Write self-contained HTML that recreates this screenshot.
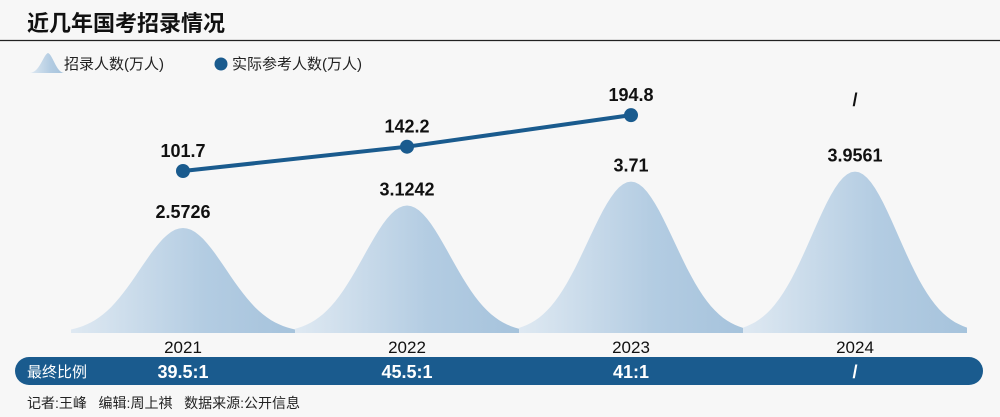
<!DOCTYPE html>
<html><head><meta charset="utf-8"><style>
body{margin:0;background:#f7f7f7;}
svg{display:block;font-family:"Liberation Sans","Noto Sans CJK SC",sans-serif;}
</style></head><body>
<svg width="1000" height="417" viewBox="0 0 1000 417">
<defs>
<linearGradient id="bell" x1="0" x2="1" y1="0" y2="0">
<stop offset="0" stop-color="#dfe9f2"/><stop offset="0.6" stop-color="#b3cce2"/><stop offset="1" stop-color="#a6c3dc"/>
</linearGradient>
</defs>
<rect width="1000" height="417" fill="#f7f7f7"/>
<text x="27" y="31" font-size="22" font-weight="bold" fill="#111">近几年国考招录情况</text>
<line x1="0" y1="40.5" x2="1000" y2="40.5" stroke="#222" stroke-width="1.2"/>
<g>
<path d="M30,73 C40,72 43,55 48,53 C53,55 56,72 64,73 Z" fill="url(#bell)"/>
<text x="64" y="69" font-size="15" fill="#222">招录人数(万人)</text>
<circle cx="221" cy="64" r="6.5" fill="#1a5b8e"/>
<text x="232" y="69" font-size="15" fill="#222">实际参考人数(万人)</text>
</g>
<g id="bells"></g>
<g id="line"></g>
<rect x="15" y="357" width="968" height="28" rx="14" fill="#1a5b8e"/>
<text x="27" y="377" font-size="15" fill="#fff">最终比例</text>
<g id="ratios"></g>
<text x="27" y="408" font-size="14" fill="#222">记者:王峰&#160;&#160;&#160;编辑:周上祺&#160;&#160;&#160;数据来源:公开信息</text>
</svg>
<script>
const years=['2021','2022','2023','2024'];
const recruits=[2.5726,3.1242,3.71,3.9561];
const recruitLabels=['2.5726','3.1242','3.71','3.9561'];
const applicants=[101.7,142.2,194.8,null];
const applicantLabels=['101.7','142.2','194.8','/'];
const ratios=['39.5:1','45.5:1','41:1','/'];
const NS='http://www.w3.org/2000/svg';
const xPos=i=>183+i*224;
const base=333;
const yBell=v=>base-v*40.8;
const yLine=v=>171-(v-101.7)*0.6;
function mk(tag,attrs,parent){const e=document.createElementNS(NS,tag);for(const k in attrs)e.setAttribute(k,attrs[k]);parent.appendChild(e);return e;}
const gb=document.getElementById('bells'),gl=document.getElementById('line'),gr=document.getElementById('ratios');
years.forEach((y,i)=>{
  const cx=xPos(i),h=base-yBell(recruits[i]),sig=43;
  let d='M'+(cx-112)+','+base;
  for(let dx=-112;dx<=112;dx+=4){d+=' L'+(cx+dx)+','+(base-h*Math.exp(-dx*dx/(2*sig*sig))).toFixed(1);}
  d+=' L'+(cx+112)+','+base+' Z';
  const p=mk('path',{d:d,fill:'url(#bell)'},gb);
  
  
  const t=mk('text',{x:cx,y:yBell(recruits[i])-10,'font-size':18,'font-weight':'bold','text-anchor':'middle',fill:'#111'},gb);
  t.textContent=recruitLabels[i];
  
  
  const yl=mk('text',{x:cx,y:353,'font-size':17,'text-anchor':'middle',fill:'#111'},gb);
  yl.textContent=y;
  
  
  const r=mk('text',{x:cx,y:378,'font-size':18,'font-weight':'bold','text-anchor':'middle',fill:'#fff'},gr);
  r.textContent=ratios[i];
  
  
});
const pts=applicants.map((v,i)=>v==null?null:[xPos(i),yLine(v)]).filter(p=>p);
const pl=mk('polyline',{points:pts.map(p=>p.join(',')).join(' '),fill:'none',stroke:'#1a5b8e','stroke-width':4},gl);


applicants.forEach((v,i)=>{
  const cx=xPos(i);
  if(v!=null){
    const c=mk('circle',{cx:cx,cy:yLine(v),r:7,fill:'#1a5b8e'},gl);
    
    
  }
  const ty=v!=null?yLine(v)-14:106;
  const t=mk('text',{x:cx,y:ty,'font-size':18,'font-weight':'bold','text-anchor':'middle',fill:'#111'},gl);
  t.textContent=applicantLabels[i];
  
  
});
</script>
</body></html>
